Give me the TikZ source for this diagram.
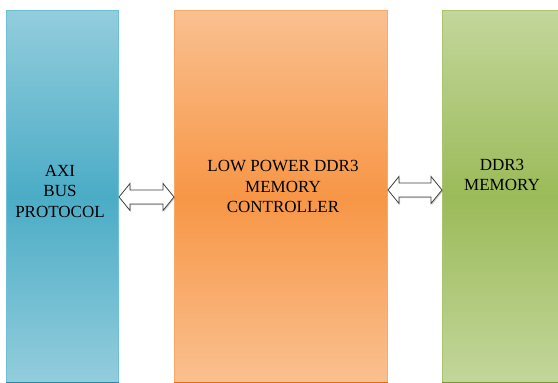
\documentclass[tikz,border=0pt]{standalone}
\usepackage{fontspec}
\setmainfont{Liberation Serif}
\usetikzlibrary{shadows,calc}

% Office-style fills: light at top and bottom, saturated in the middle
\definecolor{blueLight}{HTML}{93CDDD}
\definecolor{blueDark}{HTML}{4BACC6}
\definecolor{blueLine}{HTML}{6DC0D5}
\definecolor{blueEdge}{HTML}{31859C}
\definecolor{orangeLight}{HTML}{FAC090}
\definecolor{orangeDark}{HTML}{F79646}
\definecolor{orangeLine}{HTML}{F9A867}
\definecolor{orangeEdge}{HTML}{E46C0A}
\definecolor{greenLight}{HTML}{C3D69B}
\definecolor{greenDark}{HTML}{9BBB59}
\definecolor{greenLine}{HTML}{A9C56F}
\definecolor{greenEdge}{HTML}{76923C}

% two-headed block arrow between two points on the same height
\newcommand\bidiarrow[2]{%
  \draw[blockarrow] (#1) -- ++(11,-13.5) -- ++(0,6.5)
    -- ($(#2)+(-11,-7)$) -- ++(0,-6.5) -- (#2) -- ++(-11,13.5) -- ++(0,-6.5)
    -- ($(#1)+(11,7)$) -- ++(0,6.5) -- cycle;}

\begin{document}
\begin{tikzpicture}[x=1pt,y=-1pt,
  box/.style={draw=#1Line, line width=1pt, top color=#1Light,
    bottom color=#1Light, middle color=#1Dark, inner sep=0pt,
    anchor=north west, minimum height=372pt},
  lbl/.style={font=\fontsize{17}{20.5}\selectfont, align=center,
    inner sep=0pt, text=black, anchor=north},
  blockarrow/.style={draw=black!75, fill=white, line width=0.8pt,
    line join=miter,
    drop shadow={shadow xshift=1.2pt, shadow yshift=-1.2pt, opacity=0.35}}]

\useasboundingbox (0,0) rectangle (558,383);

% the three blocks
\node[box=blue, minimum width=112pt] (axi) at (6,10) {};
\node[box=orange, minimum width=213pt] (ctrl) at (174,10) {};
\node[box=green, minimum width=118pt] (mem) at (442,10) {};

% darker lower edges
\draw[blueEdge, line width=1.5pt] (axi.south west) -- (axi.south east);
\draw[orangeEdge, line width=1.5pt] (ctrl.south west) -- (ctrl.south east);
\draw[greenEdge, line width=1.5pt] (mem.south west) -- (mem.south east);

% block captions
\node[lbl] (axitxt) at (60,164.8) {AXI\\BUS\\PROTOCOL};
\node[lbl] (ctrltxt) at (283,160.5) {LOW POWER DDR3\\MEMORY\\CONTROLLER};
\node[lbl] (memtxt) at (502,158.8) {DDR3\\MEMORY};

% bidirectional links
\coordinate (l1) at (axi.east |- 0,197);
\coordinate (l2) at (ctrl.west |- 0,197);
\coordinate (r1) at (ctrl.east |- 0,190);
\coordinate (r2) at (mem.west |- 0,190);
\bidiarrow{l1}{l2}
\bidiarrow{r1}{r2}
\end{tikzpicture}
\end{document}
